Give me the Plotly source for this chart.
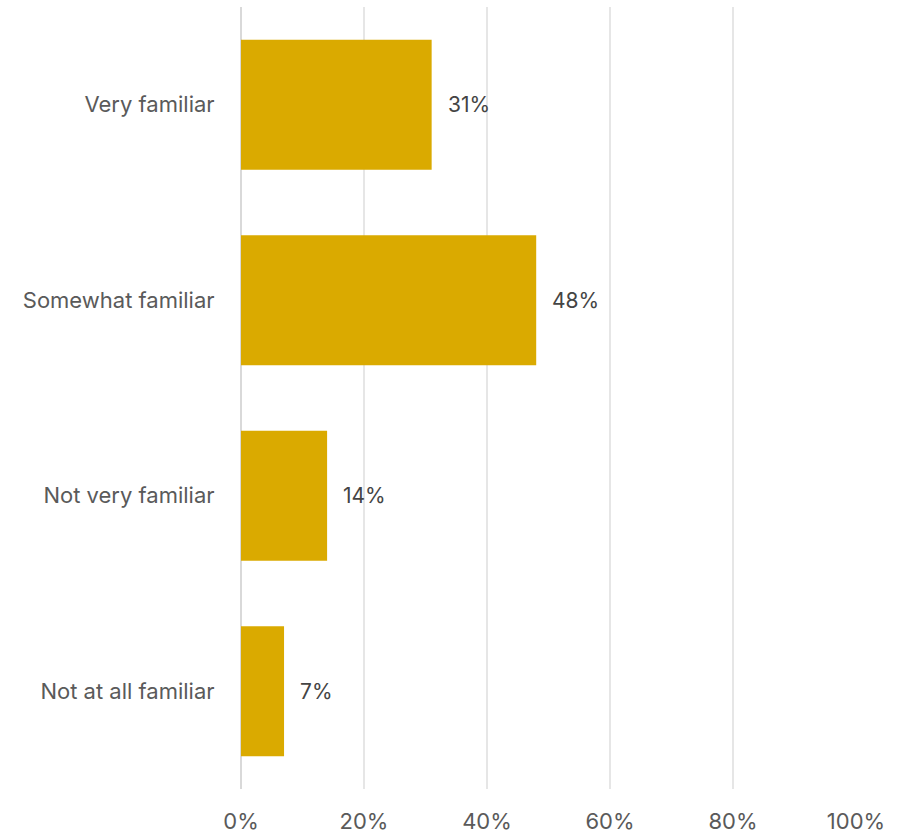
import plotly.graph_objects as go

# Survey responses: familiarity levels and share of respondents (%)
categories = ["Very familiar", "Somewhat familiar", "Not very familiar", "Not at all familiar"]
shares = [31, 48, 14, 7]
tick_values = [0, 20, 40, 60, 80, 100]
tick_labels = ["0%", "20%", "40%", "60%", "80%", "100%"]

BAR_COLOR = "#DAAA00"
FONT = "Inter, Roboto, Arial, sans-serif"
FONT_SIZE = 22

fig = go.Figure(
    go.Bar(
        x=shares,
        y=categories,
        orientation="h",
        marker=dict(color=BAR_COLOR, line=dict(width=0)),
        hoverinfo="skip",
    )
)

# Value labels placed just right of each bar end
for cat, val in zip(categories, shares):
    fig.add_annotation(
        x=val, y=cat, text=f"{val}%", showarrow=False,
        xanchor="left", yanchor="middle", xshift=14,
        font=dict(family=FONT, size=FONT_SIZE - 1, color="#444444"),
    )

fig.update_layout(
    width=902, height=835,
    margin=dict(l=241, r=46, t=7, b=46),
    paper_bgcolor="white", plot_bgcolor="white",
    bargap=0.335,
    showlegend=False,
    font=dict(family=FONT, size=FONT_SIZE, color="#5a5a5a"),
)

fig.update_xaxes(
    range=[0, 100],
    tickvals=tick_values, ticktext=tick_labels,
    showgrid=True, gridcolor="#e6e6e6", gridwidth=1.5,
    zeroline=True, zerolinecolor="#d9d9d9", zerolinewidth=2,
    showline=False,
    ticks="outside", ticklen=13, tickcolor="rgba(0,0,0,0)",
    tickfont=dict(family=FONT, size=FONT_SIZE, color="#5a5a5a"),
    automargin=False,
    fixedrange=True,
)
fig.update_yaxes(
    autorange="reversed",
    showgrid=False, showline=False, zeroline=False,
    ticks="outside", ticklen=21, tickcolor="rgba(0,0,0,0)",
    tickfont=dict(family=FONT, size=FONT_SIZE, color="#5a5a5a"),
    automargin=False,
    fixedrange=True,
)

fig.write_html("out.html")
